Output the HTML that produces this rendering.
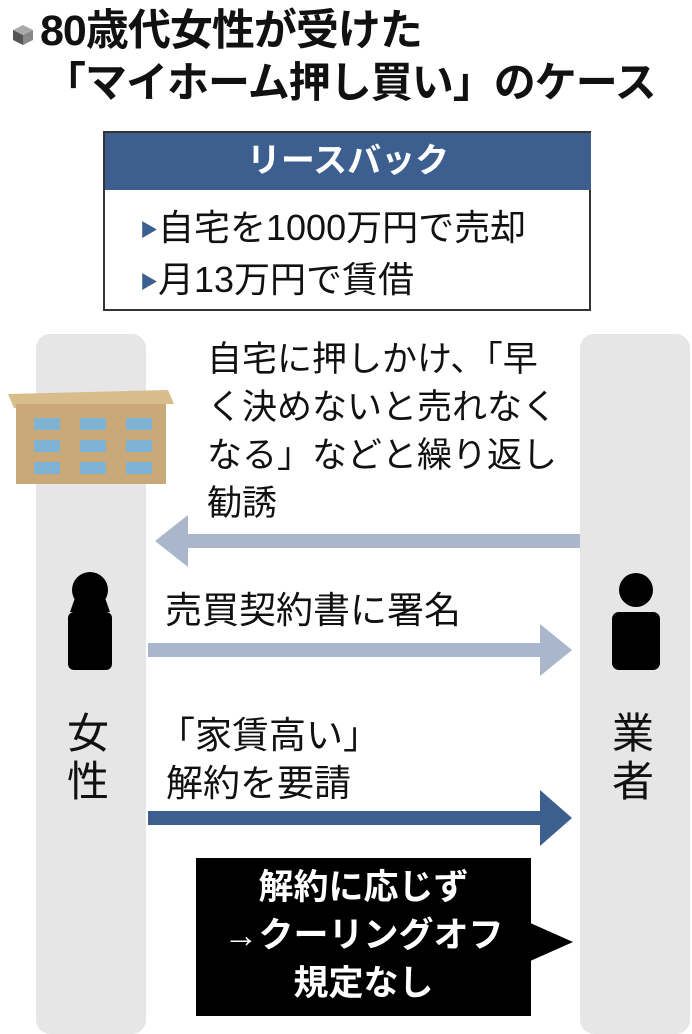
<!DOCTYPE html>
<html><head><meta charset="utf-8"><style>
body{margin:0;width:692px;height:1024px;background:#fff;position:relative;overflow:hidden;font-family:"Liberation Sans","Noto Sans CJK JP",sans-serif;color:#111}
.a{position:absolute}
.lane{position:absolute;background:#e6e6e6;border-radius:14px}
</style></head><body>
<div class="a" style="left:12px;top:24px;width:22px;height:22px">
<svg width="22" height="22"><polygon points="11,1 21,6 11,11 1,6" fill="#aaa"/><polygon points="1,6 11,11 11,21 1,16" fill="#555"/><polygon points="21,6 11,11 11,21 21,16" fill="#888"/></svg></div>
<div class="a" style="left:40px;top:6px;font-size:43px;font-weight:bold;line-height:50px;white-space:nowrap;letter-spacing:-1px">80歳代女性が受けた</div>
<div class="a" style="left:44px;top:58px;font-size:42px;font-weight:bold;line-height:50px;white-space:nowrap;letter-spacing:-1px">「マイホーム押し買い」のケース</div>

<div class="a" style="left:103px;top:131px;width:488px;height:180px;border:2px solid #333;box-sizing:border-box"></div>
<div class="a" style="left:105px;top:133px;width:486px;height:57px;background:#3d5f8f;color:#fff;font-size:34px;font-weight:bold;text-align:center;line-height:57px">リースバック</div>
<div class="a" style="left:140px;top:203px;font-size:36px;line-height:50px;white-space:nowrap"><span style="color:#3d5f8f;font-size:18px;vertical-align:middle">▶</span>自宅を1000万円で売却<br><span style="color:#3d5f8f;font-size:18px;vertical-align:middle">▶</span>月13万円で賃借</div>

<div class="lane" style="left:36px;top:334px;width:110px;height:700px"></div>
<div class="lane" style="left:580px;top:334px;width:110px;height:700px"></div>

<svg class="a" style="left:8px;top:380px" width="170" height="110">
<polygon points="0,14 160,10 166,24 6,28" fill="#d8bd8a"/>
<rect x="8" y="24" width="150" height="80" fill="#c9a977"/>
<g fill="#7fb3d5"><rect x="26" y="38" width="26" height="12"/><rect x="72" y="38" width="26" height="12"/><rect x="118" y="38" width="26" height="12"/>
<rect x="26" y="60" width="26" height="12"/><rect x="72" y="60" width="26" height="12"/><rect x="118" y="60" width="26" height="12"/>
<rect x="26" y="82" width="26" height="12"/><rect x="72" y="82" width="26" height="12"/><rect x="118" y="82" width="26" height="12"/></g>
</svg>

<div class="a" style="left:207px;top:336px;font-size:35px;line-height:48px;white-space:nowrap">自宅に押しかけ、「早<br>く決めないと売れなく<br>なる」などと繰り返し<br>勧誘</div>

<svg class="a" style="left:0;top:0" width="692" height="1024">
<rect x="180" y="534" width="400" height="14" fill="#a9b6cc"/>
<polygon points="155,541 188,515 188,567" fill="#a9b6cc"/>
<rect x="148" y="643" width="400" height="14" fill="#a9b6cc"/>
<polygon points="572,650 540,624 540,676" fill="#a9b6cc"/>
<rect x="148" y="811" width="400" height="14" fill="#3d5f8f"/>
<polygon points="572,818 540,790 540,846" fill="#3d5f8f"/>
<circle cx="90" cy="590" r="18" fill="#000"/>
<path d="M70,612 L76,595 L104,595 L110,612 Z" fill="#000"/>
<rect x="68" y="612" width="44" height="58" rx="6" fill="#000"/>
<circle cx="636" cy="590" r="17" fill="#000"/>
<rect x="612" y="612" width="48" height="58" rx="7" fill="#000"/>
<rect x="196" y="858" width="335" height="158" fill="#000"/>
<polygon points="528,922 573,942 528,962" fill="#000"/>
</svg>

<div class="a" style="left:165px;top:590px;font-size:37px;line-height:42px;white-space:nowrap">売買契約書に署名</div>
<div class="a" style="left:158px;top:712px;font-size:37px;line-height:48px;white-space:nowrap">「家賃高い」<br><span style="padding-left:8px">解約を要請</span></div>
<div class="a" style="left:67px;top:710px;font-size:42px;line-height:48px;width:46px">女<br>性</div>
<div class="a" style="left:612px;top:710px;font-size:42px;line-height:48px;width:46px">業<br>者</div>
<div class="a" style="left:196px;top:864px;width:335px;color:#fff;font-size:35px;font-weight:bold;line-height:48px;text-align:center;white-space:nowrap">解約に応じず<br>→クーリングオフ<br>規定なし</div>
</body></html>
